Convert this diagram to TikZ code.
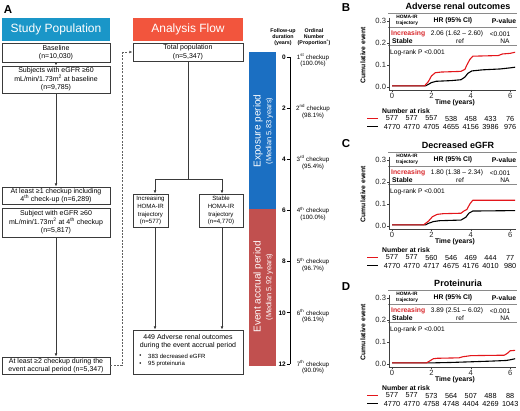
\documentclass[tikz,border=0pt]{standalone}
\usepackage{fontspec}
\setmainfont{Liberation Sans}
\usetikzlibrary{arrows.meta}
\definecolor{studyblue}{HTML}{1A96C8}
\definecolor{flowred}{HTML}{F2553D}
\definecolor{expblue}{HTML}{1B6FC2}
\definecolor{evred}{HTML}{C1504F}
\definecolor{curvered}{HTML}{E3161B}
\definecolor{tabred}{HTML}{D7262A}
\definecolor{boxgray}{HTML}{3A3A3A}
\definecolor{tabgray}{HTML}{8A8A8A}
\tikzset{
  fbox/.style={draw=boxgray, line width=0.9pt, inner sep=0pt, align=center, font=\fontsize{7}{8.4}\selectfont},
  banner/.style={inner sep=0pt, minimum width=108pt, minimum height=23pt, text=white, font=\fontsize{12}{14}\selectfont},
  conn/.style={draw=boxgray, line width=0.7pt},
  arr/.style={conn, -{Latex[length=3.2pt,width=2.8pt]}},
  dconn/.style={draw=boxgray!80, line width=0.8pt, dash pattern=on 2pt off 1.3pt},
  tl/.style={draw=black, line width=0.7pt},
  tick/.style={inner sep=0.5pt, font=\bfseries\fontsize{6.5}{7}\selectfont},
  chk/.style={inner sep=0pt, font=\fontsize{6.2}{7}\selectfont},
  thdr/.style={inner sep=0pt, align=center, font=\bfseries\fontsize{5.3}{6.2}\selectfont},
  bartxt/.style={rotate=90, text=white, inner sep=0pt},
  ttl/.style={inner sep=0pt, font=\bfseries\fontsize{9}{10}\selectfont},
  tabline/.style={draw=tabgray, line width=1pt},
  hdrsm/.style={inner sep=0pt, align=center, font=\bfseries\fontsize{4.8}{5.6}\selectfont},
  hdr/.style={inner sep=0pt, font=\bfseries\fontsize{6.8}{8}\selectfont},
  tab/.style={inner sep=0pt, font=\fontsize{6.6}{8}\selectfont},
  tabb/.style={inner sep=0pt, font=\bfseries\fontsize{6.8}{8}\selectfont},
  axisl/.style={draw=black!75, line width=0.6pt},
  ytl/.style={inner sep=0.3pt, text=black!85, font=\fontsize{7.6}{8}\selectfont},
  axlab/.style={inner sep=0pt, font=\bfseries\fontsize{6.8}{8}\selectfont},
  risk/.style={inner sep=0pt, font=\fontsize{7.3}{8}\selectfont},
  redc/.style={draw=curvered, line width=1.1pt, line join=round},
  blkc/.style={draw=black, line width=1.1pt, line join=round},
  plabel/.style={inner sep=0pt, font=\bfseries\fontsize{11.5}{12}\selectfont},
}
\newcommand\kmpanel[5]{%
  \node[ttl] (#1ttl) at (458,6) {#2};
  \draw[tabline] (388,14) -- (517,14) (388,28) -- (517,28) (388,46) -- (517,46);
  \node[hdrsm] (#1h1) at (407,20.5) {HOMA-IR\\trajectory};
  \node[hdr] (#1h2) at (453,21) {HR (95\% CI)};
  \node[hdr] (#1h3) at (504,21) {P-value};
  \node[tabb, text=tabred, anchor=west] (#1inc) at (391,34) {Increasing};
  \node[tab] (#1hr) at (457,34) {#3};
  \node[tab] (#1p) at (500,34) {<0.001};
  \node[tabb, anchor=west] (#1stab) at (392,41.5) {Stable};
  \node[tab] (#1ref) at (460,41.5) {ref};
  \node[tab] (#1na) at (505,41.5) {NA};
  \node[tab, anchor=west] (#1lr) at (390,52.5) {Log-rank P <0.001};
  \draw[axisl] (389,18) -- (389,90) -- (516,90);
  \foreach \v/\l [count=\i] in {0/0.0,0.1/0.1,0.2/0.2,0.3/0.3} {
    \draw[axisl] (389,{87-220*\v}) -- (386.5,{87-220*\v});
    \node[ytl, anchor=east] (#1y\i) at (386.5,{87-220*\v}) {\l};
  }
  \foreach \t [count=\i] in {0,2,4,6} {
    \draw[axisl] ({392+19.7*\t},90) -- ({392+19.7*\t},92.5);
    \node[ytl, anchor=north] (#1x\i) at ({392+19.7*\t},92.6) {\t};
  }
  \node[axlab] (#1xl) at (455,103) {Time (years)};
  \node[axlab, rotate=90] (#1yl) at (363,55) {Cumulative event};
  \node[axlab, anchor=west] (#1nar) at (382,111) {Number at risk};
  \draw[draw=curvered, line width=1.6pt] (367,118.5) -- (378,118.5);
  \draw[draw=black, line width=1.6pt] (367,126.5) -- (378,126.5);
  \foreach \n [count=\i from 0] in {#4} {\node[risk] (#1r\i) at ({392+19.7*\i},118.5) {\n};}
  \foreach \n [count=\i from 0] in {#5} {\node[risk] (#1b\i) at ({392+19.7*\i},126.5) {\n};}
}
\begin{document}
\begin{tikzpicture}[x=1pt,y=-1pt]
\useasboundingbox (0,0) rectangle (520,411);

% ---------- Panel A ----------
\node[plabel] (lblA) at (8,10) {A};
\node[banner, fill=studyblue] (study) at (56,29.5) {Study Population};
\node[banner, fill=flowred, minimum width=110pt] (analysis) at (188,29.5) {Analysis Flow};

\node[fbox, minimum width=108pt, minimum height=19pt] (base) at (56,52.5) {Baseline\\(n=10,030)};
\node[fbox, minimum width=108pt, minimum height=27pt] (subj) at (56,79.5) {Subjects with eGFR ≥60\\mL/min/1.73m\textsuperscript{2} at baseline\\(n=9,785)};
\node[fbox, minimum width=108pt, minimum height=17pt] (atl1) at (56,195.5) {At least ≥1 checkup including\\4\textsuperscript{th} check-up (n=6,289)};
\node[fbox, minimum width=108pt, minimum height=29pt] (subj4) at (56,222.5) {Subject with eGFR ≥60\\mL/min/1.73m\textsuperscript{2} at 4\textsuperscript{th} checkup\\(n=5,817)};
\node[fbox, minimum width=108pt, minimum height=17pt] (atl2) at (56,365.5) {At least ≥2 checkup during the\\event accrual period (n=5,347)};

\node[fbox, minimum width=110pt, minimum height=18pt] (total) at (188,52) {Total population\\(n=5,347)};
\node[fbox, font=\fontsize{6.1}{7.9}\selectfont, minimum width=35pt, minimum height=33pt] (incr) at (150.5,210.5) {Increasing\\HOMA-IR\\trajectory\\(n=577)};
\node[fbox, font=\fontsize{6.1}{7.9}\selectfont, minimum width=44pt, minimum height=33pt] (stab) at (221,210.5) {Stable\\HOMA-IR\\trajectory\\(n=4,770)};
\node[fbox, minimum width=110pt, minimum height=44pt] (adv) at (188,352) {};
\node[inner sep=0pt, align=center, font=\fontsize{7}{8.2}\selectfont] (advt) at (188,342) {449 Adverse renal outcomes\\during the event accrual period};
\node[inner sep=0pt, font=\fontsize{6}{7}\selectfont] (bul1) at (140.5,356.5) {•};
\node[inner sep=0pt, font=\fontsize{6}{7}\selectfont] (bul2) at (140.5,364) {•};
\node[inner sep=0pt, anchor=west, font=\fontsize{6}{7}\selectfont] (adv1) at (148,356.5) {383 decreased eGFR};
\node[inner sep=0pt, anchor=west, font=\fontsize{6}{7}\selectfont] (adv2) at (148,364) {95 proteinuria};

\draw[arr] (base.south) -- (subj.north);
\draw[arr] (subj.south) -- (atl1.north);
\draw[arr] (subj4.south) -- (atl2.north);
\coordinate (dA) at (122,365.5);
\coordinate (dB) at (122,52);
\draw[dconn] (atl2.east) -- (dA) -- (dB);
\draw[dconn, -{Latex[length=3.2pt,width=2.8pt]}] (dB) -- (total.west);

\coordinate (split) at (188,179);
\coordinate (splitL) at (155,179);
\coordinate (splitR) at (222,179);
\draw[conn] (total.south -| split) -- (split);
\draw[conn] (splitL) -- (splitR);
\draw[arr] (splitL) -- (splitL |- incr.north);
\draw[arr] (splitR) -- (splitR |- stab.north);
\draw[arr] (incr.south -| splitL) -- (splitL |- adv.north);
\draw[arr] (stab.south -| splitR) -- (splitR |- adv.north);

% ---------- Timeline ----------
\node[thdr] (fu) at (283,37) {Follow-up\\duration\\(years)};
\node[thdr] (ord) at (314,37) {Ordinal\\Number\\(Proportion\textsuperscript{*})};
\fill[expblue] (249,52) rectangle (276,209);
\fill[evred] (249,209) rectangle (276,366);
\node[bartxt, font=\fontsize{10}{11}\selectfont] (expT) at (258,131) {Exposure period};
\node[bartxt, font=\fontsize{7.5}{8}\selectfont] (expM) at (269.5,131) {(Median 5.83 years)};
\node[bartxt, font=\fontsize{10}{11}\selectfont] (evT) at (258,287) {Event accrual period};
\node[bartxt, font=\fontsize{7.5}{8}\selectfont] (evM) at (269.5,287) {(Median 5.92 years)};
\draw[tl] (290,57) -- (290,364);
\foreach \t/\o/\s/\p [count=\i] in {0/1/st/100.0, 2/2/nd/98.1, 4/3/rd/95.4, 6/4/th/100.0, 8/5/th/96.7, 10/6/th/96.1, 12/7/th/90.0} {
  \pgfmathsetmacro\yy{57+25.583*\t}
  \draw[tl] (286.5,\yy) -- (290,\yy);
  \node[tick, anchor=east] (tk\i) at (286.5,\yy) {\t};
  \node[chk] (ck\i) at (313,\yy) {\o\textsuperscript{\s} checkup};
  \node[chk] (cp\i) at (313,{\yy+7.3}) {(\p\%)};
}

% ---------- Panel letters ----------
\node[plabel] (lblB) at (346,8) {B};
\node[plabel] (lblC) at (346,144) {C};
\node[plabel] (lblD) at (346,287) {D};

% ---------- Panel B ----------
\begin{scope}
\kmpanel{B}{Adverse renal outcomes}{2.06 (1.62 -- 2.60)}{577,577,557,538,458,433,76}{4770,4770,4705,4655,4156,3986,976}
\begin{scope}[shift={(392,87)},x=19.7pt,y=220pt]
\draw[blkc] plot coordinates {(0,0.005) (1.7,0.005) (1.85,0.012) (2.0,0.02) (2.25,0.026) (3.0,0.029) (3.5,0.033) (3.7,0.045) (3.85,0.062) (4.05,0.073) (4.6,0.078) (5.5,0.082) (6.0,0.087) (6.25,0.09)};
\draw[redc] plot coordinates {(0,0.005) (1.65,0.005) (1.85,0.025) (2.0,0.05) (2.2,0.065) (2.5,0.068) (3.5,0.071) (3.7,0.08) (3.8,0.1) (3.95,0.125) (4.1,0.14) (5.4,0.143) (5.6,0.15) (6.0,0.153) (6.25,0.158)};
\end{scope}
\end{scope}

% ---------- Panel C ----------
\begin{scope}[yshift=-139pt]
\kmpanel{C}{Decreased eGFR}{1.80 (1.38 -- 2.34)}{577,577,560,546,469,444,77}{4770,4770,4717,4675,4176,4010,980}
\begin{scope}[shift={(392,87)},x=19.7pt,y=220pt]
\draw[blkc] plot coordinates {(0,0.005) (1.7,0.005) (1.85,0.012) (2.1,0.02) (2.4,0.024) (3.5,0.027) (3.75,0.04) (3.9,0.058) (4.1,0.068) (6.25,0.07)};
\draw[redc] plot coordinates {(0,0.005) (1.6,0.005) (1.85,0.022) (2.05,0.042) (2.3,0.053) (2.6,0.056) (3.5,0.058) (3.65,0.068) (3.8,0.075) (3.95,0.1) (4.1,0.117) (6.25,0.117)};
\end{scope}
\end{scope}

% ---------- Panel D ----------
\begin{scope}[yshift=-277pt]
\kmpanel{D}{Proteinuria}{3.89 (2.51 -- 6.02)}{577,577,573,564,507,488,88}{4770,4770,4758,4748,4404,4269,1043}
\begin{scope}[shift={(392,87)},x=19.7pt,y=220pt]
\draw[blkc] plot coordinates {(0,0.005) (2.0,0.005) (3.0,0.007) (4.0,0.01) (5.0,0.013) (5.8,0.016) (6.05,0.02) (6.25,0.024)};
\draw[redc] plot coordinates {(0,0.005) (1.75,0.005) (1.9,0.013) (2.1,0.024) (2.3,0.026) (3.4,0.028) (3.6,0.033) (4.0,0.038) (5.7,0.04) (5.85,0.048) (6.0,0.06) (6.25,0.062)};
\end{scope}
\end{scope}
\end{tikzpicture}
\end{document}
